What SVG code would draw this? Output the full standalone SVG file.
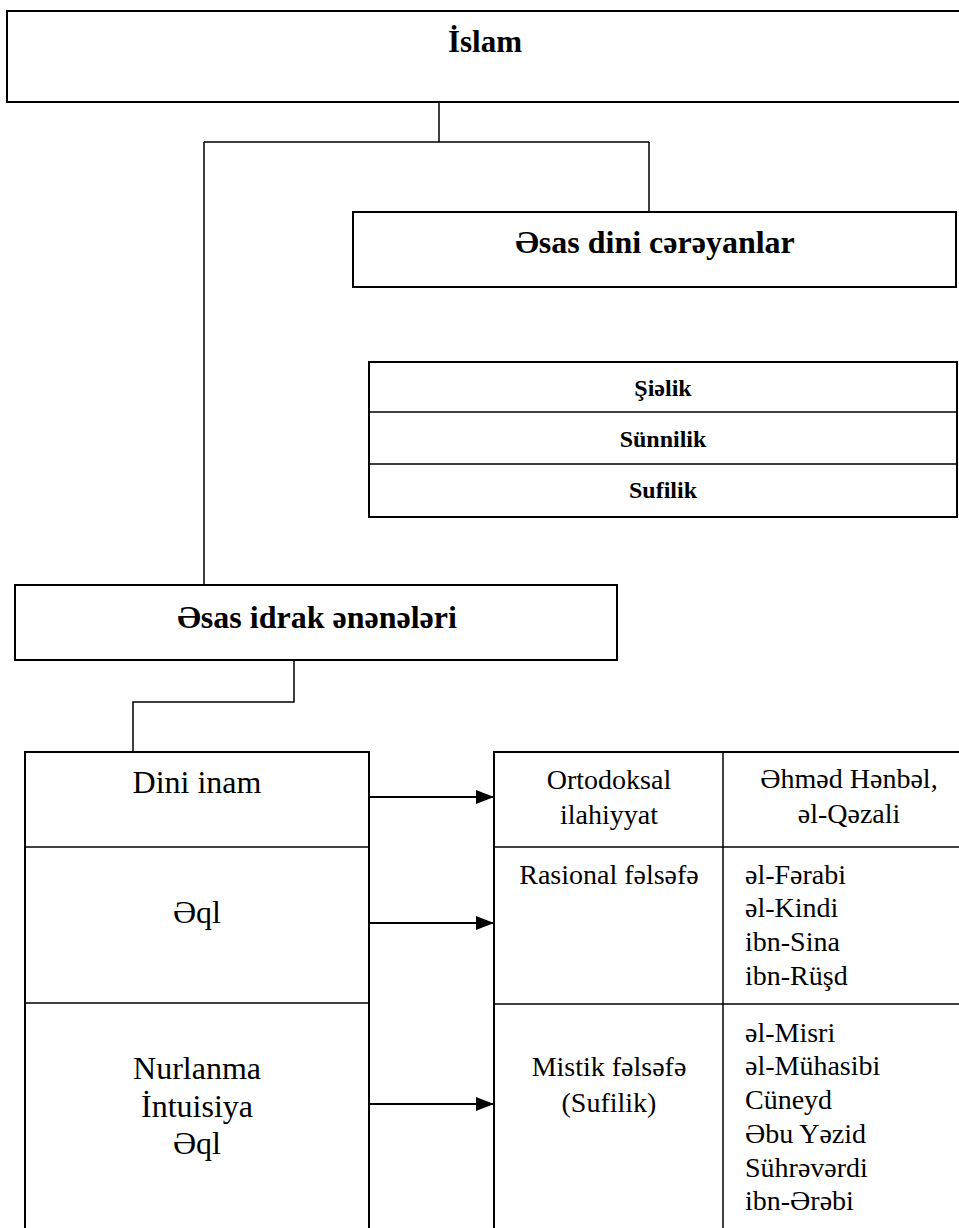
<svg xmlns="http://www.w3.org/2000/svg" width="959" height="1228" viewBox="0 0 959 1228">
<style>
.box{fill:#fff;stroke:#000;stroke-width:2}
.ln{fill:none;stroke:#000;stroke-width:1.5}
.arr{fill:none;stroke:#000;stroke-width:2.2}
.tb{font-family:"Liberation Serif","Times New Roman",serif;font-weight:bold;fill:#000}
.tr{font-family:"Liberation Serif","Times New Roman",serif;fill:#000}
</style>
<defs>
<marker id="ah" markerWidth="18" markerHeight="14" refX="18" refY="7" orient="auto" markerUnits="userSpaceOnUse">
<path d="M0,0 L18,7 L0,14 Z" fill="#000"/>
</marker>
</defs>
<rect width="959" height="1228" fill="#fff"/>
<g id="connectors">
<path class="ln" d="M439,102 V142 M204,142 H649 M204,142 V585 M649,142 V212"/>
<path class="ln" d="M294,660 V702 H133 V752"/>
<line class="arr" x1="369" y1="797" x2="494" y2="797" marker-end="url(#ah)"/>
<line class="arr" x1="369" y1="923" x2="494" y2="923" marker-end="url(#ah)"/>
<line class="arr" x1="369" y1="1104" x2="494" y2="1104" marker-end="url(#ah)"/>
</g>
<g id="islam">
<rect class="box" x="7" y="11" width="970" height="91"/>
<text class="tb" x="485" y="52" font-size="31" text-anchor="middle">İslam</text>
</g>
<g id="dini-cereyanlar">
<rect class="box" x="353" y="212" width="603" height="75"/>
<text class="tb" x="655" y="253" font-size="32" text-anchor="middle">Əsas dini cərəyanlar</text>
</g>
<g id="cereyanlar-list">
<rect class="box" x="369" y="362" width="588" height="155"/>
<line class="ln" x1="369" y1="412" x2="957" y2="412" stroke-width="2"/>
<line class="ln" x1="369" y1="464" x2="957" y2="464" stroke-width="2"/>
<text class="tb" x="663" y="396" font-size="24" text-anchor="middle">Şiəlik</text>
<text class="tb" x="663" y="447" font-size="24" text-anchor="middle">Sünnilik</text>
<text class="tb" x="663" y="498" font-size="24" text-anchor="middle">Sufilik</text>
</g>
<g id="idrak">
<rect class="box" x="15" y="585" width="602" height="75"/>
<text class="tb" x="317" y="628" font-size="32" text-anchor="middle">Əsas idrak ənənələri</text>
</g>
<g id="left-table">
<path class="box" d="M25,1240 V752 H369 V1240"/>
<line class="ln" x1="25" y1="847" x2="369" y2="847" stroke-width="2"/>
<line class="ln" x1="25" y1="1003" x2="369" y2="1003" stroke-width="2"/>
<text class="tr" x="197" y="793" font-size="32" text-anchor="middle">Dini inam</text>
<text class="tr" x="197" y="923" font-size="32" text-anchor="middle">Əql</text>
<text class="tr" x="197" y="1079" font-size="32" text-anchor="middle">Nurlanma</text>
<text class="tr" x="197" y="1117" font-size="32" text-anchor="middle">İntuisiya</text>
<text class="tr" x="197" y="1154" font-size="32" text-anchor="middle">Əql</text>
</g>
<g id="right-table">
<path class="box" d="M494,1240 V752 H975"/>
<line class="ln" x1="723" y1="752" x2="723" y2="1240" stroke-width="2"/>
<line class="ln" x1="494" y1="847" x2="975" y2="847" stroke-width="2"/>
<line class="ln" x1="494" y1="1004" x2="975" y2="1004" stroke-width="2"/>
<text class="tr" x="609" y="789" font-size="28" text-anchor="middle">Ortodoksal</text>
<text class="tr" x="609" y="824" font-size="28" text-anchor="middle">ilahiyyat</text>
<text class="tr" x="849" y="788" font-size="28" text-anchor="middle">Əhməd Hənbəl,</text>
<text class="tr" x="849" y="823" font-size="28" text-anchor="middle">əl-Qəzali</text>
<text class="tr" x="609" y="884" font-size="28" text-anchor="middle">Rasional fəlsəfə</text>
<text class="tr" x="745" y="884" font-size="28">əl-Fərabi</text>
<text class="tr" x="745" y="917" font-size="28">əl-Kindi</text>
<text class="tr" x="745" y="951" font-size="28">ibn-Sina</text>
<text class="tr" x="745" y="985" font-size="28">ibn-Rüşd</text>
<text class="tr" x="609" y="1076" font-size="28" text-anchor="middle">Mistik fəlsəfə</text>
<text class="tr" x="609" y="1112" font-size="28" text-anchor="middle">(Sufilik)</text>
<text class="tr" x="745" y="1042" font-size="28">əl-Misri</text>
<text class="tr" x="745" y="1075" font-size="28">əl-Mühasibi</text>
<text class="tr" x="745" y="1109" font-size="28">Cüneyd</text>
<text class="tr" x="745" y="1143" font-size="28">Əbu Yəzid</text>
<text class="tr" x="745" y="1177" font-size="28">Sührəvərdi</text>
<text class="tr" x="745" y="1210" font-size="28">ibn-Ərəbi</text>
</g>
</svg>
